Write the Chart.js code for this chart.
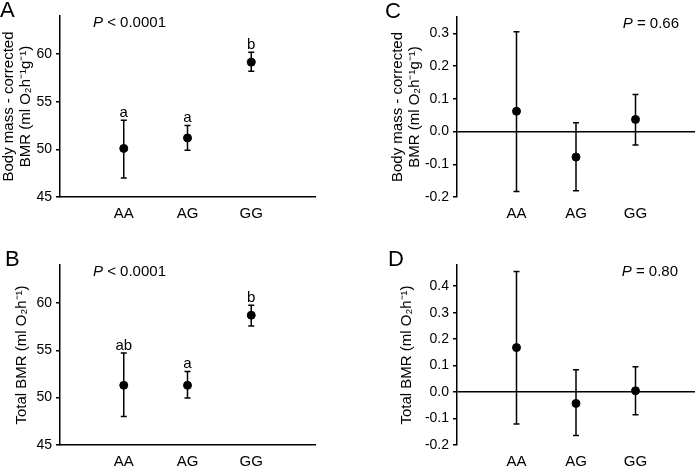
<!DOCTYPE html>
<html>
<head>
<meta charset="utf-8">
<script src="https://cdn.jsdelivr.net/npm/chart.js@4.4.1/dist/chart.umd.min.js"></script>
<style>
  body { margin: 0; background: #fff; }
  #wrap { position: relative; width: 700px; height: 466px; }
  .panel { position: absolute; width: 350px; height: 233px; }
</style>
</head>
<body>
<div id="wrap">
  <div class="panel" style="left:0;top:0"><canvas id="chartA" width="350" height="233"></canvas></div>
  <div class="panel" style="left:350px;top:0"><canvas id="chartC" width="350" height="233"></canvas></div>
  <div class="panel" style="left:0;top:233px"><canvas id="chartB" width="350" height="233"></canvas></div>
  <div class="panel" style="left:350px;top:233px"><canvas id="chartD" width="350" height="233"></canvas></div>
</div>
<script>
const genotypes = ["AA", "AG", "GG"];

// A: body mass-corrected BMR
const corrMean = [50.1, 51.2, 59.15];
const corrLow = [47.0, 49.9, 58.2];
const corrHigh = [53.05, 52.5, 60.2];
const corrLetters = ["a", "a", "b"];

// B: total BMR
const totalMean = [51.3, 51.3, 58.7];
const totalLow = [48.0, 49.95, 57.55];
const totalHigh = [54.7, 52.75, 59.75];
const totalLetters = ["ab", "a", "b"];

// C: body mass-corrected BMR (second analysis)
const corrDiffMean = [0.062, -0.078, 0.037];
const corrDiffLow = [-0.183, -0.181, -0.041];
const corrDiffHigh = [0.305, 0.027, 0.113];

// D: total BMR (second analysis)
const totalDiffMean = [0.168, -0.043, 0.005];
const totalDiffLow = [-0.121, -0.164, -0.086];
const totalDiffHigh = [0.455, 0.084, 0.096];

const bmrTicks = [45, 50, 55, 60];
const diffTicksC = [-0.2, -0.1, 0, 0.1, 0.2, 0.3];
const diffTicksD = [-0.2, -0.1, 0, 0.1, 0.2, 0.3, 0.4];

const corrTitle = ["Body mass - corrected", "BMR (ml O\u2082h\u207B\u00B9g\u207B\u00B9)"];
const totalTitle = "Total BMR (ml O\u2082h\u207B\u00B9)";

const FONT = "'Liberation Sans', Arial, sans-serif";
Chart.defaults.font.family = FONT;
Chart.defaults.color = "#000";

function makePanel(id, p) {
  const ctx = document.getElementById(id).getContext("2d");

  // error bars, letters, P value and panel label
  const extras = {
    id: "extras",
    beforeDatasetsDraw(chart) {
      const { ctx, scales: { x, y } } = chart;
      ctx.save();
      ctx.strokeStyle = "#000";
      ctx.lineWidth = 1.5;
      p.mean.forEach((m, i) => {
        const px = x.getPixelForValue(i + 1);
        const top = y.getPixelForValue(p.high[i]);
        const bot = y.getPixelForValue(p.low[i]);
        ctx.beginPath();
        ctx.moveTo(px, top); ctx.lineTo(px, bot);
        ctx.moveTo(px - 3, top); ctx.lineTo(px + 3, top);
        ctx.moveTo(px - 3, bot); ctx.lineTo(px + 3, bot);
        ctx.stroke();
      });
      ctx.restore();
    },
    afterDraw(chart) {
      const { ctx, chartArea, scales: { x, y } } = chart;
      ctx.save();
      ctx.fillStyle = "#000";
      ctx.textBaseline = "alphabetic";

      if (p.letters) {
        ctx.font = "15px " + FONT;
        ctx.textAlign = "center";
        p.letters.forEach((l, i) => {
          ctx.fillText(l, x.getPixelForValue(i + 1), y.getPixelForValue(p.high[i]) - 3.5);
        });
      }

      // P value, italic P
      ctx.textAlign = "left";
      ctx.textBaseline = "middle";
      ctx.font = "italic 15px " + FONT;
      const wP = ctx.measureText("P").width;
      ctx.font = "15px " + FONT;
      const wRest = ctx.measureText(p.pText).width;
      let px = p.pRight ? p.pRight - wP - wRest : chartArea.left + p.pLeft;
      const py = chartArea.top + 6.5;
      ctx.font = "italic 15px " + FONT;
      ctx.fillText("P", px, py);
      ctx.font = "15px " + FONT;
      ctx.fillText(p.pText, px + wP, py);

      ctx.textBaseline = "alphabetic";
      ctx.font = "22px " + FONT;
      ctx.fillText(p.label, p.labelX, p.labelY);
      ctx.restore();
    }
  };

  return new Chart(ctx, {
    type: "scatter",
    data: {
      datasets: [{
        data: p.mean.map((v, i) => ({ x: i + 1, y: v })),
        backgroundColor: "#000",
        borderColor: "#000",
        pointRadius: 4,
        pointHoverRadius: 4
      }]
    },
    options: {
      responsive: false,
      animation: false,
      events: [],
      layout: { padding: { top: p.top, right: p.right, left: 0, bottom: 0 } },
      plugins: { legend: { display: false }, tooltip: { enabled: false } },
      scales: {
        x: {
          type: "linear", min: 0, max: 4,
          afterBuildTicks: ax => { ax.ticks = genotypes.map((g, i) => ({ value: i + 1 })); },
          afterFit: ax => { ax.height = p.xHeight; },
          grid: { display: false },
          border: { display: p.xBorder, color: "#000", width: 1.5 },
          ticks: { padding: 0, font: { size: 15 }, color: "#000", callback: v => genotypes[v - 1] }
        },
        y: {
          min: p.min, max: p.max,
          afterBuildTicks: ax => { ax.ticks = p.ticks.map(v => ({ value: v })); },
          afterFit: ax => { ax.width = p.left; },
          grid: {
            color: c => (p.zeroLine && c.tick && c.tick.value === 0 ? "#000" : "rgba(0,0,0,0)"),
            lineWidth: 1.5, tickColor: "#000", tickLength: 4, tickWidth: 1.5
          },
          border: { color: "#000", width: 1.5 },
          ticks: { padding: 4, font: { size: 14 }, color: "#000", callback: v => p.fmt(v) },
          title: {
            display: true, text: p.title, color: "#000",
            font: { size: 15, lineHeight: 1.15 },
            padding: { top: p.titlePad, bottom: 0 }
          }
        }
      }
    },
    plugins: [extras]
  });
}

const intFmt = v => String(v);
const decFmt = v => Number(v).toFixed(1);

makePanel("chartA", {
  mean: corrMean, low: corrLow, high: corrHigh, letters: corrLetters,
  min: 45, max: 64, ticks: bmrTicks, fmt: intFmt, title: corrTitle, titlePad: 0,
  left: 60, right: 35, top: 16, xHeight: 36, xBorder: true, zeroLine: false,
  pText: " < 0.0001", pLeft: 33, label: "A", labelX: 0, labelY: 17
});
makePanel("chartB", {
  mean: totalMean, low: totalLow, high: totalHigh, letters: totalLetters,
  min: 45, max: 64, ticks: bmrTicks, fmt: intFmt, title: totalTitle, titlePad: 13,
  left: 60, right: 35, top: 32, xHeight: 21, xBorder: true, zeroLine: false,
  pText: " < 0.0001", pLeft: 33, label: "B", labelX: 5, labelY: 33
});
makePanel("chartC", {
  mean: corrDiffMean, low: corrDiffLow, high: corrDiffHigh, letters: null,
  min: -0.2, max: 0.35, ticks: diffTicksC, fmt: decFmt, title: corrTitle, titlePad: 39,
  left: 107, right: 0, top: 17, xHeight: 36, xBorder: false, zeroLine: true,
  pText: " = 0.66", pRight: 329, label: "C", labelX: 35, labelY: 18
});
makePanel("chartD", {
  mean: totalDiffMean, low: totalDiffLow, high: totalDiffHigh, letters: null,
  min: -0.2, max: 0.48, ticks: diffTicksD, fmt: decFmt, title: totalTitle, titlePad: 48,
  left: 107, right: 0, top: 32, xHeight: 21, xBorder: false, zeroLine: true,
  pText: " = 0.80", pRight: 328, label: "D", labelX: 38, labelY: 33
});
</script>
</body>
</html>
